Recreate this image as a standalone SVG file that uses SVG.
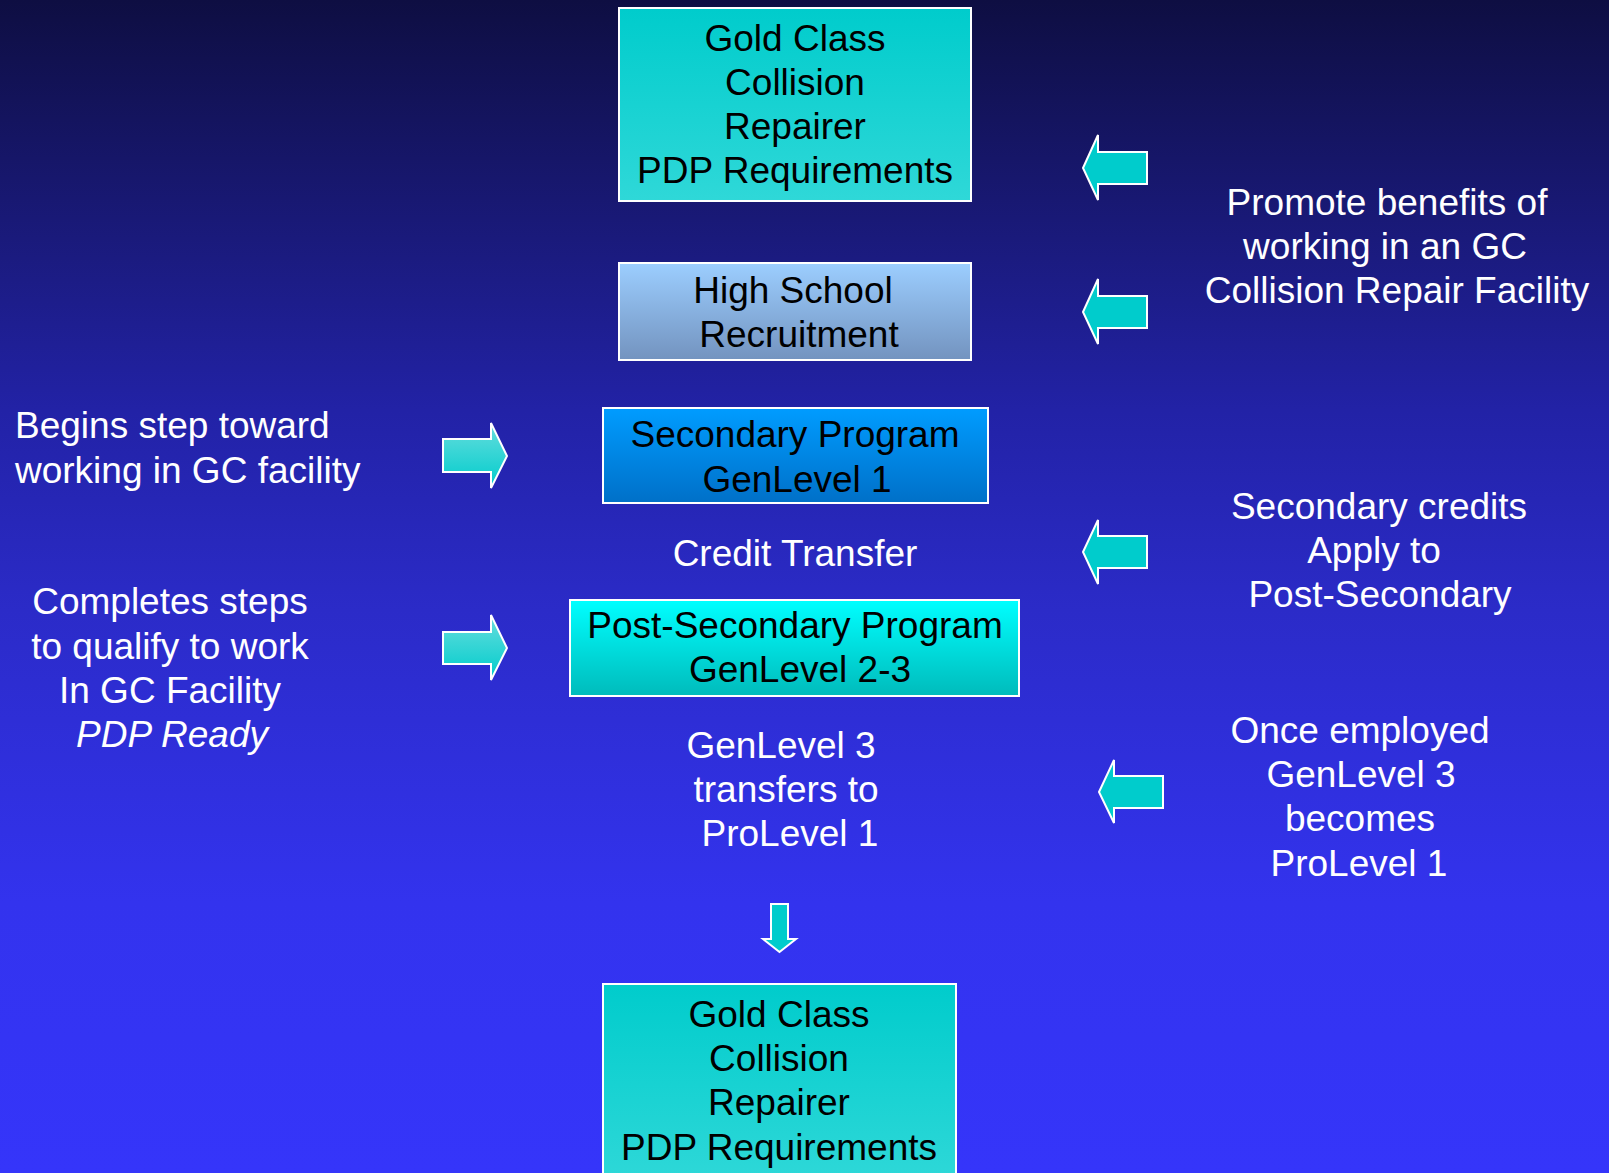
<svg xmlns="http://www.w3.org/2000/svg" width="1609" height="1173" viewBox="0 0 1609 1173">
<defs>
<linearGradient id="bg" x1="0" y1="0" x2="0" y2="1">
<stop offset="0" stop-color="#0e0e42"/>
<stop offset="0.22" stop-color="#1b1b80"/>
<stop offset="0.35" stop-color="#2222a6"/>
<stop offset="0.52" stop-color="#2b2bc8"/>
<stop offset="0.77" stop-color="#3333ee"/>
<stop offset="1" stop-color="#3535fa"/>
</linearGradient>
<linearGradient id="gTeal" x1="0" y1="0" x2="0" y2="1">
<stop offset="0" stop-color="#00cccc"/>
<stop offset="1" stop-color="#2fd8d8"/>
</linearGradient>
<linearGradient id="gHS" x1="0" y1="0" x2="0" y2="1">
<stop offset="0" stop-color="#9cceff"/>
<stop offset="1" stop-color="#7393bf"/>
</linearGradient>
<linearGradient id="gSec" x1="0" y1="0" x2="0" y2="1">
<stop offset="0" stop-color="#009cff"/>
<stop offset="1" stop-color="#0070c8"/>
</linearGradient>
<linearGradient id="gPost" x1="0" y1="0" x2="0" y2="1">
<stop offset="0" stop-color="#00ffff"/>
<stop offset="1" stop-color="#00bbbb"/>
</linearGradient>
<linearGradient id="gArr" x1="0" y1="0" x2="0" y2="1">
<stop offset="0" stop-color="#66dddd"/>
<stop offset="1" stop-color="#00cccc"/>
</linearGradient>
</defs>
<style>
.box{stroke:#ffffff;stroke-width:2}
text{font-family:Liberation Sans,Arial,Helvetica,sans-serif;font-size:37px}
.bt{fill:#000000;text-anchor:middle}
.wt{fill:#ffffff;text-anchor:middle}
.ws{fill:#ffffff;text-anchor:start}
.arrL{fill:#00cccc;stroke:#ffffff;stroke-width:2}
.arrR{fill:url(#gArr);stroke:#ffffff;stroke-width:2}
</style>
<rect x="0" y="0" width="1609" height="1173" fill="url(#bg)"/>

<g id="node-gold-top">
<rect class="box" x="619" y="8" width="352" height="193" fill="url(#gTeal)"/>
<text class="bt" x="795" y="51">Gold Class</text>
<text class="bt" x="795" y="95">Collision</text>
<text class="bt" x="795" y="139">Repairer</text>
<text class="bt" x="795" y="183">PDP Requirements</text>
</g>

<g id="node-highschool">
<rect class="box" x="619" y="263" width="352" height="97" fill="url(#gHS)"/>
<text class="bt" x="793" y="303">High School</text>
<text class="bt" x="799" y="347">Recruitment</text>
</g>

<g id="node-secondary">
<rect class="box" x="603" y="408" width="385" height="95" fill="url(#gSec)"/>
<text class="bt" x="795" y="447">Secondary Program</text>
<text class="bt" x="797" y="492">GenLevel 1</text>
</g>

<g id="node-credit-transfer">
<text class="wt" x="795" y="566">Credit Transfer</text>
</g>

<g id="node-postsecondary">
<rect class="box" x="570" y="600" width="449" height="96" fill="url(#gPost)"/>
<text class="bt" x="795" y="638">Post-Secondary Program</text>
<text class="bt" x="800" y="682">GenLevel 2-3</text>
</g>

<g id="node-genlevel3">
<text class="wt" x="781" y="758">GenLevel 3</text>
<text class="wt" x="786" y="802">transfers to</text>
<text class="wt" x="790" y="846">ProLevel 1</text>
</g>

<g id="node-gold-bottom">
<rect class="box" x="603" y="984" width="353" height="200" fill="url(#gTeal)"/>
<text class="bt" x="779" y="1027">Gold Class</text>
<text class="bt" x="779" y="1071">Collision</text>
<text class="bt" x="779" y="1115">Repairer</text>
<text class="bt" x="779" y="1160">PDP Requirements</text>
</g>

<g id="note-promote">
<text class="wt" x="1387" y="215">Promote benefits of</text>
<text class="wt" x="1385" y="259">working in an GC</text>
<text class="wt" x="1397" y="303">Collision Repair Facility</text>
</g>

<g id="note-begins">
<text class="ws" x="15" y="438">Begins step toward</text>
<text class="ws" x="15" y="483">working in GC facility</text>
</g>

<g id="note-secondary-credits">
<text class="wt" x="1379" y="519">Secondary credits</text>
<text class="wt" x="1374" y="563">Apply to</text>
<text class="wt" x="1380" y="607">Post-Secondary</text>
</g>

<g id="note-completes">
<text class="wt" x="170" y="614">Completes steps</text>
<text class="wt" x="170" y="659">to qualify to work</text>
<text class="wt" x="170" y="703">In GC Facility</text>
<text class="wt" x="172" y="747" font-style="italic">PDP Ready</text>
</g>

<g id="note-once-employed">
<text class="wt" x="1360" y="743">Once employed</text>
<text class="wt" x="1361" y="787">GenLevel 3</text>
<text class="wt" x="1360" y="831">becomes</text>
<text class="wt" x="1359" y="876">ProLevel 1</text>
</g>

<g id="connectors">
<polygon class="arrL" points="1083,168 1098,135 1098,152 1147,152 1147,184 1098,184 1098,200"/>
<polygon class="arrL" points="1083,312 1098,279 1098,296 1147,296 1147,328 1098,328 1098,344"/>
<polygon class="arrL" points="1083,552 1098,520 1098,536 1147,536 1147,568 1098,568 1098,584"/>
<polygon class="arrL" points="1099,792 1114,760 1114,776 1163,776 1163,808 1114,808 1114,823"/>
<polygon class="arrR" points="443,439 491,439 491,423 507,456 491,488 491,472 443,472"/>
<polygon class="arrR" points="443,632 491,632 491,615 507,648 491,680 491,664 443,664"/>
<polygon class="arrL" points="771,904 788,904 788,939 796,939 779.5,952 763,939 771,939"/>
</g>
</svg>
